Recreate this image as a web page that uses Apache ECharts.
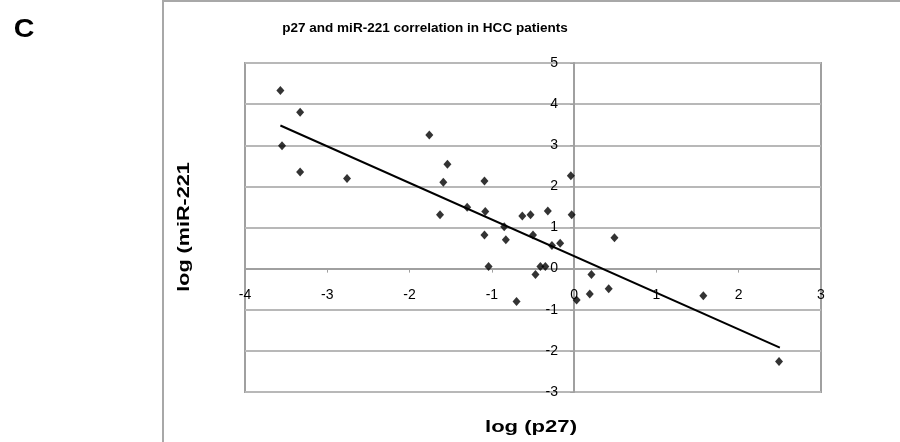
<!DOCTYPE html>
<html>
<head>
<meta charset="utf-8">
<script src="https://cdn.jsdelivr.net/npm/echarts@6/dist/echarts.min.js"></script>
<style>html,body{margin:0;padding:0;background:#fff}#c{width:900px;height:442px}</style>
</head>
<body>
<div id="c"></div>
<script>
var logP27 = [-3.57,-3.33,-3.55,-3.33,-2.76,-1.76,-1.54,-1.59,-1.63,-1.30,-1.09,-1.08,-1.09,-1.04,-0.85,-0.83,-0.70,-0.63,-0.53,-0.50,-0.47,-0.41,-0.35,-0.32,-0.27,-0.17,-0.04,-0.03,0.03,0.21,0.19,0.42,0.49,1.57,2.49];
var logMiR221 = [4.33,3.80,2.99,2.35,2.19,3.25,2.54,2.10,1.31,1.49,2.13,1.39,0.82,0.05,1.02,0.70,-0.80,1.28,1.31,0.82,-0.14,0.05,0.05,1.40,0.56,0.62,2.26,1.31,-0.76,-0.14,-0.62,-0.49,0.75,-0.66,-2.26];
var trendX = [-3.57, 2.50];
var trendY = [3.48, -1.92];
var xTicks = [-4,-3,-2,-1,0,1,2,3];
var yTicks = [-3,-2,-1,0,1,2,3,4,5];

var pts = logP27.map(function(x,i){return [x, logMiR221[i]];});
var trend = trendX.map(function(x,i){return [x, trendY[i]];});
var font = 'Liberation Sans, Arial, sans-serif';

var chart = echarts.init(document.getElementById('c'), null, {renderer:'canvas'});
chart.setOption({
  backgroundColor:'#fff',
  animation:false,
  graphic:[
    {type:'rect', shape:{x:163, y:1, width:760, height:460}, style:{fill:'none', stroke:'#a8a8a8', lineWidth:2}, z:0},
    {type:'text', x:425, y:28, style:{text:'p27 and miR-221 correlation in HCC patients', font:'bold 13px Liberation Sans, Arial, sans-serif', fill:'#000', textAlign:'center', textVerticalAlign:'middle'}, scaleX:1.04},
    {type:'text', x:24, y:30, style:{text:'C', font:'bold 26px Liberation Sans, Arial, sans-serif', fill:'#000', textAlign:'center', textVerticalAlign:'middle'}, scaleX:1.1},
    {type:'text', x:531, y:428, style:{text:'log (p27)', font:'bold 16px Liberation Sans, Arial, sans-serif', fill:'#000', textAlign:'center', textVerticalAlign:'middle'}, scaleX:1.38},
    {type:'text', x:184, y:227, rotation:Math.PI/2, style:{text:'log (miR-221', font:'bold 17px Liberation Sans, Arial, sans-serif', fill:'#000', textAlign:'center', textVerticalAlign:'middle'}, scaleX:1.27}
  ],
  grid:{left:245, top:63, width:576, height:329, show:true, borderColor:'#a0a0a0', borderWidth:2, backgroundColor:'transparent'},
  xAxis:{type:'value', min:-4, max:3, interval:1,
    axisLine:{onZero:true, lineStyle:{color:'#a0a0a0', width:2}},
    axisTick:{show:true, length:4, lineStyle:{color:'#a0a0a0'}},
    axisLabel:{margin:-104, fontFamily:font, fontSize:14, color:'#000', showMinLabel:true, showMaxLabel:true},
    splitLine:{show:false}},
  yAxis:{type:'value', min:-3, max:5, interval:1,
    axisLine:{onZero:true, lineStyle:{color:'#a0a0a0', width:2}},
    axisTick:{show:true, length:4, lineStyle:{color:'#a0a0a0'}},
    axisLabel:{margin:-313, fontFamily:font, fontSize:14, color:'#000', showMinLabel:true, showMaxLabel:true},
    splitLine:{show:true, lineStyle:{color:'#b8b8b8', width:2}}},
  series:[
    {type:'scatter', data:pts, symbol:'diamond', symbolSize:[8,9], itemStyle:{color:'#000'}, z:5},
    {type:'line', data:trend, showSymbol:false, symbol:'none', lineStyle:{color:'#000', width:2}, z:4}
  ]
});
</script>
</body>
</html>
